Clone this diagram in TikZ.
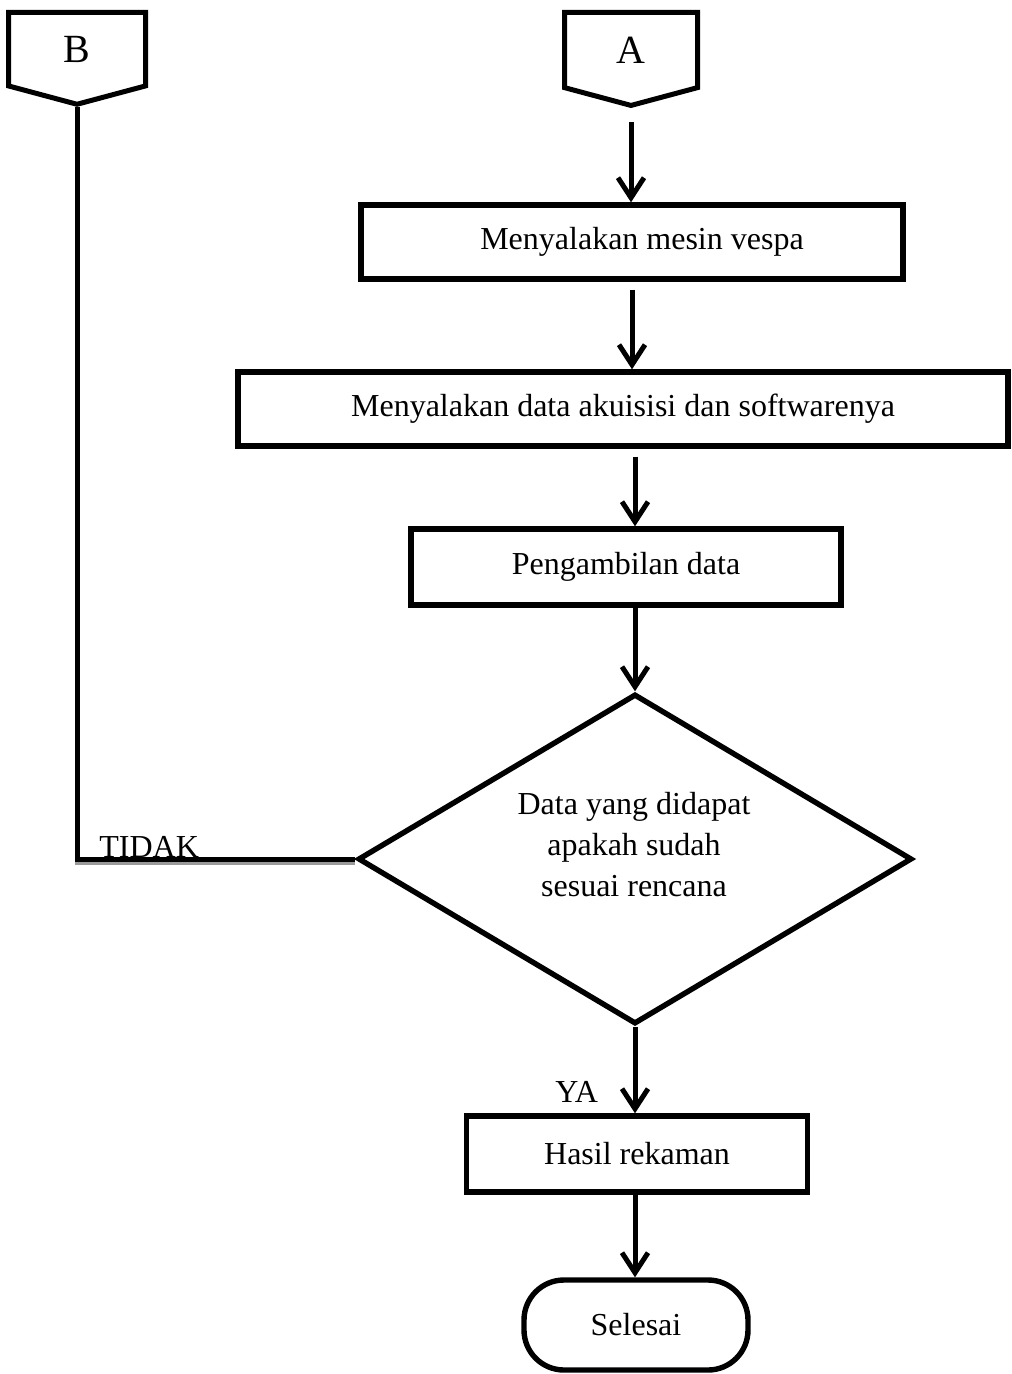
\documentclass[tikz,border=0pt]{standalone}
\usepackage{fontspec}
\setmainfont{Liberation Serif}
\usetikzlibrary{arrows.meta,shapes.geometric,shapes.symbols}
\definecolor{inkblack}{HTML}{000000}
\definecolor{shadowgray}{HTML}{9A9A9A}

\tikzset{
  procbox/.style={
    draw=inkblack,
    line width=2.7pt,
    inner sep=0pt,
    minimum height=37pt,
    font=\fontsize{16}{20}\selectfont
  },
  pagelink/.style={
    shape=signal,
    signal to=south,
    signal pointer angle=150,
    draw=inkblack,
    line width=2.5pt,
    inner sep=0pt,
    font=\fontsize{20}{24}\selectfont
  },
  flowarrow/.style={
    line width=2.5pt,
    -{Straight Barb[length=10pt,width=13pt,line width=2.5pt]}
  },
  flowline/.style={line width=2.5pt},
  plaintext/.style={inner sep=0pt, font=\fontsize{16}{20.5}\selectfont}
}

\begin{document}
\begin{tikzpicture}[x=0.5pt,y=-0.5pt]
  \useasboundingbox (0,0) rectangle (1011,1374);

  % penghubung halaman
  \node[pagelink, minimum width=68.5pt, minimum height=38.5pt,
        anchor=north] (bk) at (77,10) {B};
  \node[pagelink, minimum width=66.5pt, minimum height=39.5pt,
        anchor=north] (ak) at (631,10) {A};

  % langkah proses
  \node[procbox, minimum width=271pt] (msn) at (632,242)
    {\hspace*{10pt}Menyalakan mesin vespa};
  \node[procbox, minimum width=385pt] (daq) at (623,409)
    {Menyalakan data akuisisi dan softwarenya};
  \node[procbox, minimum width=215pt, minimum height=38pt] (ambil) at (626,567)
    {Pengambilan data};
  \node[
    shape=diamond,
    draw=inkblack,
    line width=2.7pt,
    aspect=1.68,
    inner sep=0pt,
    minimum width=277pt,
    minimum height=165pt
  ] (cek) at (635,859) {};
  \node[plaintext, align=center] (cekteks) at (634,845)
    {Data yang didapat\\apakah sudah\\sesuai rencana};
  \node[procbox, minimum width=170.5pt, minimum height=38pt] (hasil) at (637,1154)
    {Hasil rekaman};
  \node[procbox, minimum width=112pt, minimum height=45pt,
        rounded corners=20pt] (selesai) at (636,1325) {Selesai};

  % alur
  \draw[flowarrow, shorten <=7pt] (ak.south) -- (ak.south |- msn.north);
  \draw[flowarrow, shorten <=4pt] (msn.south) -- (msn.south |- daq.north);
  \draw[flowarrow, shorten <=4pt] (daq.south -| cek.north) -- (ambil.north -| cek.north);
  \draw[flowarrow] (ambil.south -| cek.north) -- (cek.north);
  \draw[flowarrow] (cek.south) -- (cek.south |- hasil.north);
  \draw[flowarrow] (hasil.south -| cek.south) -- (selesai.north -| cek.south);

  % jalur kembali
  \draw[flowline,
        preaction={draw=shadowgray, line width=2.5pt,
                   transform canvas={yshift=-1.5pt}}]
    (bk.south) |- (cek.west);

  % label keputusan
  \node[plaintext, anchor=base west] (tidak) at (99,857) {TIDAK};
  \node[plaintext, anchor=base west] (ya) at (555,1102) {YA};
\end{tikzpicture}
\end{document}
